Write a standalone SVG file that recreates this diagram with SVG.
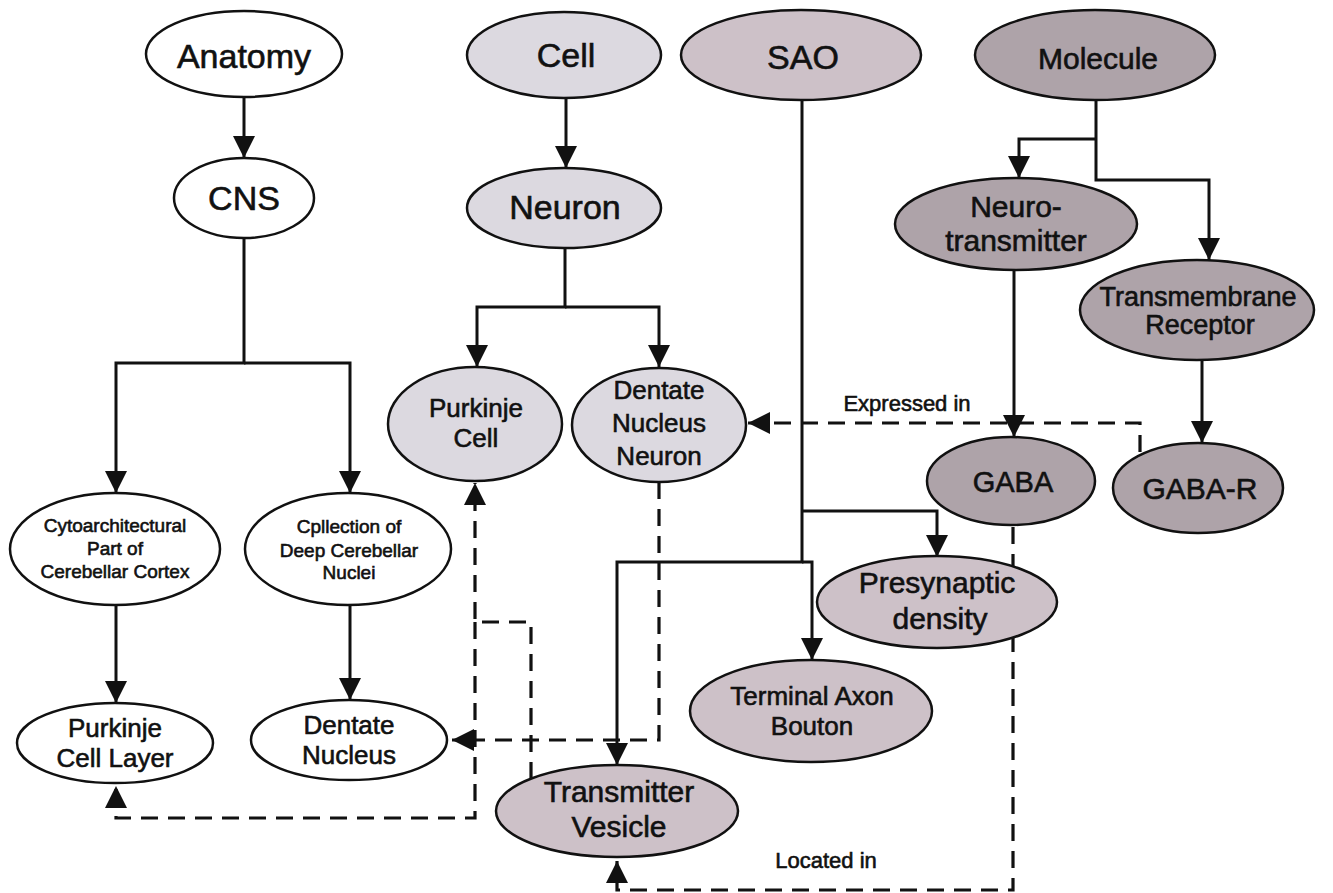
<svg xmlns="http://www.w3.org/2000/svg" width="1333" height="893" viewBox="0 0 1333 893">
<style>
.n{stroke:#111;stroke-width:2.5}
.w{fill:#ffffff}
.c{fill:#dcd9e0}
.s{fill:#cdc1c8}
.m{fill:#aea3a9}
text{font-family:"Liberation Sans",Arial,sans-serif;fill:#111;stroke:#111;stroke-width:0.6;text-anchor:middle}
.e{fill:none;stroke:#111;stroke-width:3}
.d{fill:none;stroke:#111;stroke-width:3.2;stroke-dasharray:17 10}
.lbl{font-size:22px}
</style>
<defs>
<marker id="ah" markerUnits="userSpaceOnUse" markerWidth="22" markerHeight="22" refX="20" refY="10" orient="auto" viewBox="0 0 20 20">
<path d="M0,0 L20,10 L0,20 z" fill="#111"/>
</marker>
</defs>
<rect width="1333" height="893" fill="#fff"/>
<g id="connectors">
<path class="e" d="M244,97 V158" marker-end="url(#ah)"/>
<path class="e" d="M244,238 V363 H116 V493" marker-end="url(#ah)"/>
<path class="e" d="M244,363 H350 V493" marker-end="url(#ah)"/>
<path class="e" d="M116,605 V703" marker-end="url(#ah)"/>
<path class="e" d="M350,605 V700" marker-end="url(#ah)"/>
<path class="e" d="M566,98 V168" marker-end="url(#ah)"/>
<path class="e" d="M565,248 V307 H477 V367" marker-end="url(#ah)"/>
<path class="e" d="M565,307 H659 V367" marker-end="url(#ah)"/>
<path class="e" d="M802,100 V562 H617 V765" marker-end="url(#ah)"/>
<path class="e" d="M802,562 H812 V660" marker-end="url(#ah)"/>
<path class="e" d="M802,511 H937 V557" marker-end="url(#ah)"/>
<path class="e" d="M1096,100 V180 H1209 V260" marker-end="url(#ah)"/>
<path class="e" d="M1096,139 H1019 V178" marker-end="url(#ah)"/>
<path class="e" d="M1014,270 V437" marker-end="url(#ah)"/>
<path class="e" d="M1202,360 V443" marker-end="url(#ah)"/>
<path class="d" d="M1140,452 V423 H748" marker-end="url(#ah)"/>
<path class="d" d="M659,482 V740 H452" marker-end="url(#ah)"/>
<path class="d" d="M531,779 V622 H475 V483" marker-end="url(#ah)"/>
<path class="d" d="M475,622 V818 H116 V786" marker-end="url(#ah)"/>
<path class="d" d="M1013,527 V890 H617 V861" marker-end="url(#ah)"/>
<text class="lbl" x="907" y="411">Expressed in</text>
<text class="lbl" x="826" y="868">Located in</text>
</g>
<g id="anatomy"><ellipse class="n w" cx="244" cy="54" rx="98" ry="43"/><text x="244" y="68" font-size="34">Anatomy</text></g>
<g id="cns"><ellipse class="n w" cx="244" cy="198" rx="70" ry="40"/><text x="244" y="210" font-size="34">CNS</text></g>
<g id="cyto"><ellipse class="n w" cx="115" cy="549" rx="105" ry="56"/><text font-size="19"><tspan x="115" y="532">Cytoarchitectural</tspan><tspan x="115" y="555">Part of</tspan><tspan x="115" y="578">Cerebellar Cortex</tspan></text></g>
<g id="cpllection"><ellipse class="n w" cx="348" cy="549" rx="103" ry="56"/><text font-size="19"><tspan x="349" y="533">Cpllection of</tspan><tspan x="349" y="557">Deep Cerebellar</tspan><tspan x="349" y="579">Nuclei</tspan></text></g>
<g id="pcl"><ellipse class="n w" cx="115" cy="743" rx="98" ry="40"/><text font-size="26"><tspan x="115" y="737">Purkinje</tspan><tspan x="115" y="767">Cell Layer</tspan></text></g>
<g id="dn"><ellipse class="n w" cx="349" cy="740" rx="98" ry="40"/><text font-size="26"><tspan x="349" y="734">Dentate</tspan><tspan x="349" y="764">Nucleus</tspan></text></g>
<g id="cell"><ellipse class="n c" cx="564" cy="55" rx="97" ry="43"/><text x="566" y="67" font-size="34">Cell</text></g>
<g id="neuron"><ellipse class="n c" cx="564" cy="208" rx="97" ry="40"/><text x="565" y="219" font-size="34">Neuron</text></g>
<g id="purkinje-cell"><ellipse class="n c" cx="475" cy="424" rx="87" ry="57"/><text font-size="26"><tspan x="476" y="417">Purkinje</tspan><tspan x="476" y="447">Cell</tspan></text></g>
<g id="dnn"><ellipse class="n c" cx="659" cy="425" rx="87" ry="57"/><text font-size="26"><tspan x="659" y="399">Dentate</tspan><tspan x="659" y="432">Nucleus</tspan><tspan x="659" y="465">Neuron</tspan></text></g>
<g id="sao"><ellipse class="n s" cx="801" cy="55" rx="120" ry="45"/><text x="803" y="69" font-size="34">SAO</text></g>
<g id="presynaptic"><ellipse class="n s" cx="937" cy="602" rx="120" ry="46"/><text font-size="30"><tspan x="937" y="593">Presynaptic</tspan><tspan x="940" y="629">density</tspan></text></g>
<g id="bouton"><ellipse class="n s" cx="811" cy="711" rx="121" ry="51"/><text font-size="26"><tspan x="812" y="705">Terminal Axon</tspan><tspan x="812" y="735">Bouton</tspan></text></g>
<g id="vesicle"><ellipse class="n s" cx="617" cy="811" rx="121" ry="46"/><text font-size="30"><tspan x="619" y="802">Transmitter</tspan><tspan x="619" y="837">Vesicle</tspan></text></g>
<g id="molecule"><ellipse class="n m" cx="1095" cy="55" rx="120" ry="45"/><text x="1098" y="69" font-size="30">Molecule</text></g>
<g id="neurotransmitter"><ellipse class="n m" cx="1016" cy="224" rx="121" ry="46"/><text font-size="30"><tspan x="1016" y="217">Neuro-</tspan><tspan x="1016" y="251">transmitter</tspan></text></g>
<g id="transmembrane"><ellipse class="n m" cx="1197" cy="310" rx="117" ry="50"/><text font-size="27"><tspan x="1198" y="306">Transmembrane</tspan><tspan x="1200" y="334">Receptor</tspan></text></g>
<g id="gaba"><ellipse class="n m" cx="1011" cy="481" rx="84" ry="44"/><text x="1013" y="492" font-size="29">GABA</text></g>
<g id="gaba-r"><ellipse class="n m" cx="1198" cy="488" rx="85" ry="45"/><text x="1200" y="499" font-size="30">GABA-R</text></g>
</svg>
